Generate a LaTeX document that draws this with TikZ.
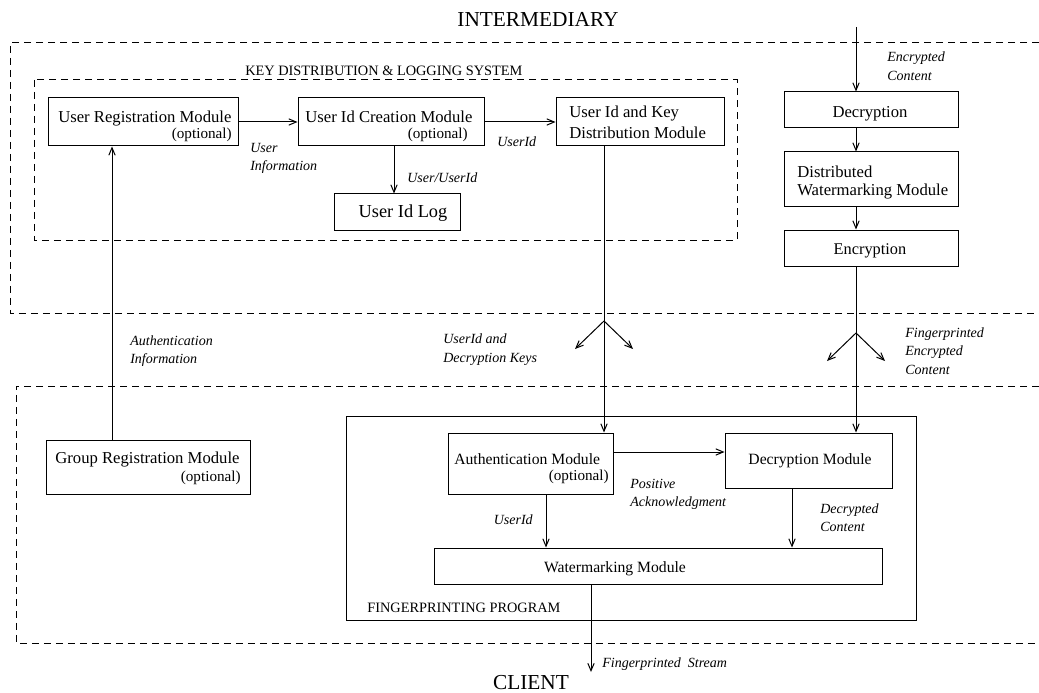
\documentclass[tikz,border=0pt]{standalone}
\usepackage{fontspec}
\setmainfont{Liberation Serif}
\usetikzlibrary{fit,arrows.meta}
\tikzset{
  box/.style={draw, line width=0.6pt, rectangle, inner sep=0pt},
  bx/.style={inner sep=0pt, font=\fontsize{#1}{12}\selectfont},
  bx/.default=10,
  opt/.style={inner sep=0pt, anchor=base east, font=\fontsize{9.1}{11}\selectfont},
  lab/.style={inner sep=0pt, anchor=base west, font=\fontsize{8.4}{10}\selectfont\itshape},
  grouplabel/.style={inner sep=0pt, anchor=base west, font=\fontsize{8.6}{10}\selectfont},
  big/.style={inner sep=0pt, anchor=base, font=\fontsize{12.8}{15}\selectfont},
  arr/.style={line width=0.6pt, -{Straight Barb[length=4.5pt,width=3.8pt]}},
  dsh/.style={line width=0.6pt, dash pattern=on 4.2pt off 3pt},
}
\begin{document}
\begin{tikzpicture}[x=0.6pt,y=-0.6pt]
\useasboundingbox (0,0) rectangle (1039,693);

% titles
\node[big] (inter) at (538,27) {INTERMEDIARY};
\node[big] (client) at (531,689) {CLIENT};

% outer dashed regions (open on right)
\draw[dsh] (1039,43) -- (10,43) -- (10,313) -- (1039,313);
\draw[dsh] (1039,386) -- (16,386) -- (16,643) -- (1039,643);

% key distribution system
\node[grouplabel] (kdl) at (245,76) {KEY DISTRIBUTION \& LOGGING SYSTEM};
\draw[dsh] (34,80) rectangle (737,240);

\node[box, fit={(48,98) (238,146)}] (urm) {};
\node[bx, anchor=base west] (urmt) at (58,123) {User Registration Module};
\node[opt] (urmo) at (232,138) {(optional)};

\node[box, fit={(298,98) (484,146)}] (uic) {};
\node[bx, anchor=base west] (uict) at (305,123) {User Id Creation Module};
\node[opt] (uico) at (468,138) {(optional)};

\node[box, fit={(556,98) (724,146)}] (uikd) {};
\node[bx, anchor=base west] (uikd1) at (569,118) {User Id and Key};
\node[bx, anchor=base west] (uikd2) at (569,138) {Distribution Module};

\node[box, fit={(334,194) (460,230)}] (log) {};
\node[bx=11, anchor=base] (logt) at (403,218) {User Id Log};

\draw[arr] (urm.east) -- (uic.west);
\draw[arr] (uic.east) -- (uikd.west);
\draw[arr] (uic.south -| 394,0) -- (log.north -| 394,0);

\node[lab] (l1) at (250,153) {User};
\node[lab] (l2) at (250,171) {Information};
\node[lab] (l3) at (497,146) {UserId};
\node[lab] (l4) at (407,182) {User/UserId};

% right column
\coordinate (ectop) at (856,27);
\node[box, fit={(784,92) (958,128)}] (dec) {};
\node[bx, anchor=base] (dect) at (870,118) {Decryption};
\node[box, fit={(784,152) (958,206)}] (dwm) {};
\node[bx, anchor=base west] (dwm1) at (797,177) {Distributed};
\node[bx, anchor=base west] (dwm2) at (797,196) {Watermarking Module};
\node[box, fit={(784,230) (958,266)}] (enc) {};
\node[bx=9.8, anchor=base] (enct) at (870,254) {Encryption};

\draw[arr] (ectop) -- (dec.north -| ectop);
\draw[arr] (dec.south -| ectop) -- (dwm.north -| ectop);
\draw[arr] (dwm.south -| ectop) -- (enc.north -| ectop);
\node[lab] (l5) at (887,62) {Encrypted};
\node[lab] (l6) at (887,81) {Content};

% client side
\node[box, fit={(46,440) (250,494)}] (grm) {};
\node[bx, anchor=base west] (grmt) at (55,463) {Group Registration Module};
\node[opt] (grmo) at (241,481) {(optional)};

\draw[arr] (grm.north -| 112,0) -- (urm.south -| 112,0);
\node[lab] (l7) at (130,345) {Authentication};
\node[lab] (l8) at (130,363) {Information};

\node[box, fit={(346,416) (916,620)}] (fp) {};
\node[grouplabel] (fpl) at (367,612) {FINGERPRINTING PROGRAM};

\node[box, fit={(448,433) (613,494)}] (auth) {};
\node[bx=9.4, anchor=base west] (autht) at (454,464) {Authentication Module};
\node[opt] (autho) at (609,480) {(optional)};

\node[box, fit={(725,433) (892,488)}] (decm) {};
\node[bx=9.4, anchor=base] (decmt) at (810,464) {Decryption Module};

\node[box, fit={(434,548) (882,584)}] (wm) {};
\node[bx=9.4, anchor=base] (wmt) at (615,572) {Watermarking Module};

% key / content delivery with forks
\coordinate (fk1) at (604,321);
\coordinate (fk2) at (856,333);
\draw[arr] (uikd.south -| fk1) -- (auth.north -| fk1);
\draw[arr] (fk1) -- ++(-29,28);
\draw[arr] (fk1) -- ++(29,28);
\draw[arr] (enc.south -| fk2) -- (decm.north -| fk2);
\draw[arr] (fk2) -- ++(-29,28);
\draw[arr] (fk2) -- ++(29,28);
\node[lab] (l9) at (443,343) {UserId and};
\node[lab] (l10) at (443,362) {Decryption Keys};
\node[lab] (l11) at (905,337) {Fingerprinted};
\node[lab] (l12) at (905,355) {Encrypted};
\node[lab] (l13) at (905,374) {Content};

% inside fingerprinting program
\draw[arr] (auth.east |- 0,452) -- (decm.west |- 0,452);
\draw[arr] (auth.south -| 546,0) -- (wm.north -| 546,0);
\draw[arr] (decm.south -| 792,0) -- (wm.north -| 792,0);
\node[lab] (l14) at (630,488) {Positive};
\node[lab] (l15) at (630,506) {Acknowledgment};
\node[lab, anchor=base east] (l16) at (533,524) {UserId};
\node[lab] (l17) at (820,513) {Decrypted};
\node[lab] (l18) at (820,531) {Content};

\coordinate (out) at (591,672);
\draw[arr] (wm.south -| out) -- (out);
\node[lab] (l19) at (602,667) {Fingerprinted\ \ Stream};
\end{tikzpicture}
\end{document}
